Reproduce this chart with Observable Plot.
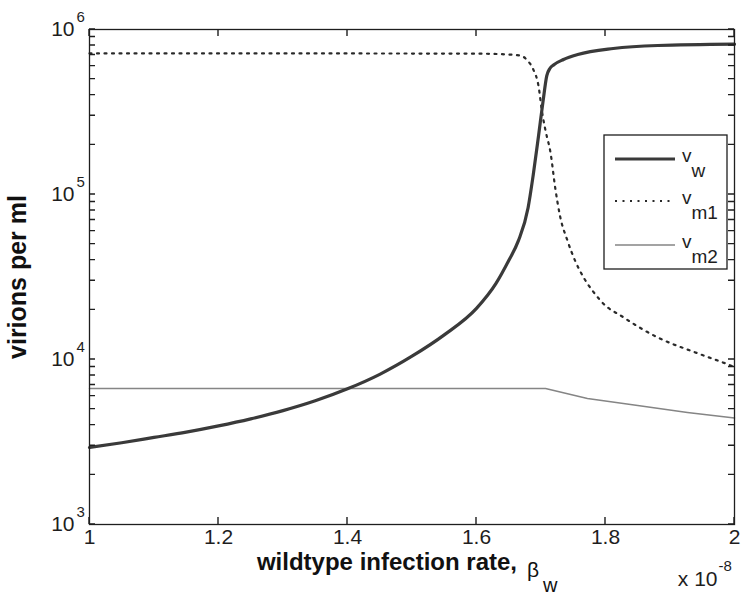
<!DOCTYPE html>
<html><head><meta charset="utf-8">
<script src="https://cdn.jsdelivr.net/npm/d3@7"></script>
<script src="https://cdn.jsdelivr.net/npm/@observablehq/plot@0.6"></script>
<style>body{margin:0;background:#fff;} svg{display:block;}</style>
</head><body><div id="chart"></div>
<script>
// wildtype infection rate (x 1e-8)
const vwBeta   = [1.0, 1.05, 1.1, 1.15, 1.2, 1.25, 1.3, 1.35, 1.4, 1.45, 1.5, 1.55, 1.6, 1.63, 1.65, 1.665, 1.68, 1.688, 1.696, 1.703, 1.709, 1.714, 1.72, 1.735, 1.757, 1.812, 1.881, 2.0];
const vwValues = [2930, 3130, 3370, 3630, 3960, 4370, 4900, 5620, 6640, 8130, 10470, 14100, 20400, 28800, 39800, 52500, 83200, 131800, 223900, 363000, 525000, 582000, 612000, 658000, 705000, 767000, 800000, 815000];

const vm1Beta   = [1.0, 1.3, 1.6, 1.65, 1.668, 1.679, 1.688, 1.696, 1.702, 1.707, 1.715, 1.722, 1.730, 1.741, 1.792, 1.828, 1.881, 1.943, 1.994, 2.0];
const vm1Values = [716000, 716000, 714000, 705000, 695000, 649000, 573000, 458000, 310000, 244000, 177000, 110000, 72600, 52600, 22800, 18000, 13600, 10900, 9200, 9000];

const vm2Beta   = [1.0, 1.4, 1.707, 1.772, 1.85, 1.927, 2.0];
const vm2Values = [6670, 6670, 6670, 5810, 5260, 4780, 4420];

const seriesNames = ["w", "m1", "m2"];
const xTickValues = [1, 1.2, 1.4, 1.6, 1.8, 2];
const xTickLabels = ["1", "1.2", "1.4", "1.6", "1.8", "2"];
const yTickValues = [1e3, 1e4, 1e5, 1e6];
const yTickExponents = ["3", "4", "5", "6"];
const yMinorTicks = [2e3,3e3,4e3,5e3,6e3,7e3,8e3,9e3,2e4,3e4,4e4,5e4,6e4,7e4,8e4,9e4,2e5,3e5,4e5,5e5,6e5,7e5,8e5,9e5];

const font = "Liberation Sans, Arial, Helvetica, sans-serif";
const ink = "#1e1e1e";
const allY = yTickValues.concat(yMinorTicks);
const xMin = 1, xMax = 2, yMin = 1e3, yMax = 1e6;

const toPts = (bs, vs) => bs.map((b, i) => ({b, v: vs[i]}));

const W = 742, H = 603;
const mL = 89, mR = 8, mT = 29, mB = 79;
const xTickLen = 7, yTickLen = 6;

const plot = Plot.plot({
  width: W, height: H,
  marginLeft: mL, marginRight: mR, marginTop: mT, marginBottom: mB,
  style: {fontFamily: font, background: "#fff", color: ink},
  x: {domain: [xMin, xMax], axis: null},
  y: {type: "log", domain: [yMin, yMax], axis: null},
  marks: [
    Plot.line(toPts(vm2Beta, vm2Values), {x: "b", y: "v", stroke: "#858585", strokeWidth: 1.5}),
    Plot.line(toPts(vm1Beta, vm1Values), {x: "b", y: "v", stroke: "#2a2a2a", strokeWidth: 2.2, strokeDasharray: "2,5.5", curve: "monotone-x"}),
    Plot.line(toPts(vwBeta, vwValues), {x: "b", y: "v", stroke: "#3a3a3a", strokeWidth: 3.2, curve: "monotone-x"}),
    Plot.frame({stroke: ink, strokeWidth: 1.3}),
    // x tick labels
    Plot.text(xTickValues, {x: d => d, frameAnchor: "bottom", dy: 19, text: (d, i) => xTickLabels[i], fontSize: 21, fill: ink}),
    // y tick labels 10^k
    Plot.text(yTickValues, {y: d => d, frameAnchor: "left", dx: -15, text: () => "10", textAnchor: "end", fontSize: 21, fill: ink}),
    Plot.text(yTickValues, {y: d => d, frameAnchor: "left", dx: -13, dy: -12, text: (d, i) => yTickExponents[i], textAnchor: "start", fontSize: 15, fill: ink}),
    // x multiplier
    Plot.text(["x 10"], {frameAnchor: "bottom-right", dx: -17, dy: 61, textAnchor: "end", fontSize: 21, fill: ink}),
    Plot.text(["-8"], {frameAnchor: "bottom-right", dx: -16, dy: 46, textAnchor: "start", fontSize: 15, fill: ink}),
    // axis labels
    Plot.text(["wildtype infection rate,"], {frameAnchor: "bottom", x: 1.5, dx: 105, dy: 45, textAnchor: "end", fontSize: 24, fontWeight: "bold", fill: "#111"}),
    Plot.text(["\u03B2"], {frameAnchor: "bottom", x: 1.5, dx: 115, dy: 52, textAnchor: "start", fontSize: 21, fill: "#111"}),
    Plot.text(["w"], {frameAnchor: "bottom", x: 1.5, dx: 131, dy: 67, textAnchor: "start", fontSize: 20, fill: "#111"}),
    Plot.text(["virions per ml"], {frameAnchor: "left", dx: -72, rotate: -90, textAnchor: "middle", fontSize: 25, fontWeight: "bold", fill: "#111"})
  ]
});

const svg = d3.select(plot);
const sx = plot.scale("x"), sy = plot.scale("y");
const X0 = sx.apply(xMin), X1 = sx.apply(xMax), Y0 = sy.apply(yMin), Y1 = sy.apply(yMax);

// inward ticks (MATLAB style), positioned through Plot's scales
let dPath = "";
xTickValues.forEach(v => {
  const px = sx.apply(v);
  dPath += `M${px},${Y0}V${Y0 - xTickLen}M${px},${Y1}V${Y1 + xTickLen}`;
});
allY.forEach(v => {
  const py = sy.apply(v);
  dPath += `M${X0},${py}H${X0 + yTickLen}M${X1},${py}H${X1 - yTickLen}`;
});
svg.append("path").attr("d", dPath).attr("fill", "none").attr("stroke", ink).attr("stroke-width", 1.4);

// legend
const lg = svg.append("g").attr("font-family", font).attr("fill", ink).attr("text-anchor", "start");
const bx = X1 - 7 - 123, by = 135;
lg.append("rect").attr("x", bx).attr("y", by).attr("width", 123).attr("height", 134)
  .attr("fill", "#fff").attr("stroke", ink).attr("stroke-width", 1.3);
const styles = [
  {stroke: "#3a3a3a", width: 3.2, dash: null},
  {stroke: "#2a2a2a", width: 2.2, dash: "2,5.5"},
  {stroke: "#858585", width: 1.5, dash: null}
];
const rowY = [by + 24, by + 66, by + 110];
seriesNames.forEach((name, i) => {
  const y = rowY[i];
  lg.append("line").attr("x1", bx + 11).attr("x2", bx + 71).attr("y1", y).attr("y2", y)
    .attr("stroke", styles[i].stroke).attr("stroke-width", styles[i].width)
    .attr("stroke-dasharray", styles[i].dash);
  const t = lg.append("text").attr("x", bx + 78).attr("y", y + 3).attr("font-size", 19).attr("text-anchor", "start");
  t.append("tspan").text("v");
  t.append("tspan").attr("dy", 15).attr("dx", 0).text(name);
});

document.getElementById("chart").appendChild(plot);
</script>
</body></html>
